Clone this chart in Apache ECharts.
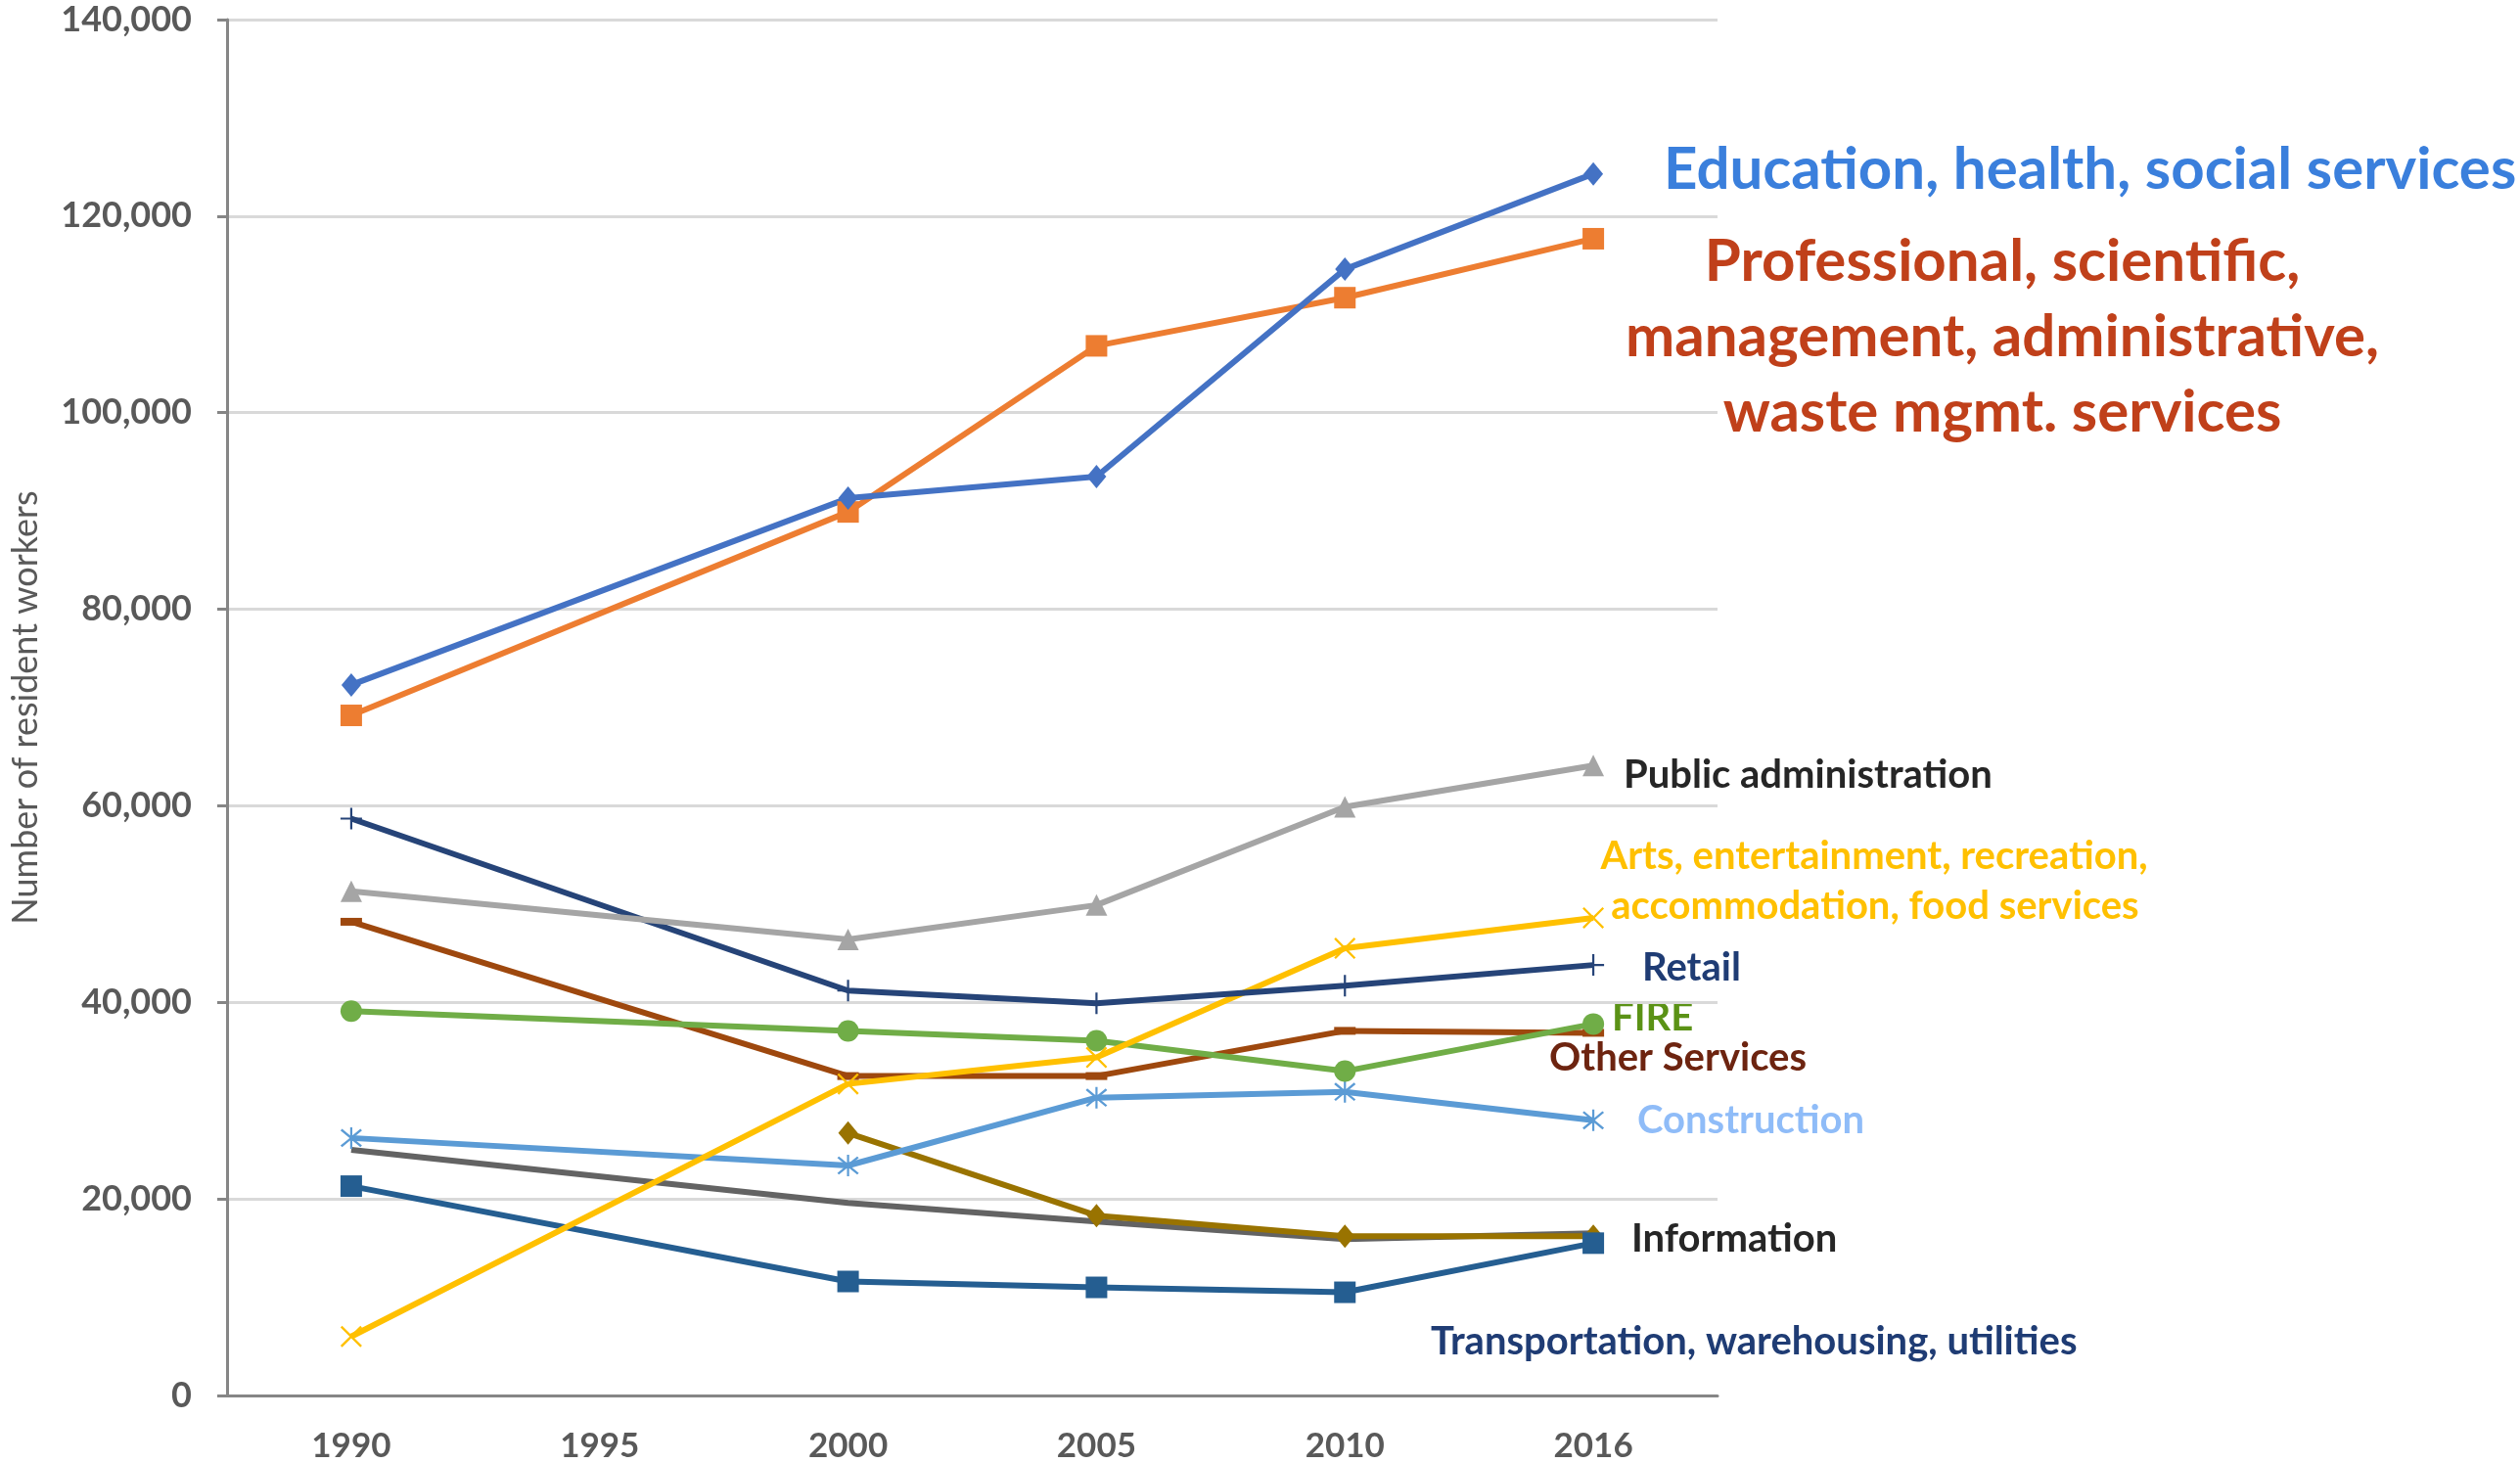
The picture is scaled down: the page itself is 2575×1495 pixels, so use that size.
<!DOCTYPE html>
<html>
<head>
<meta charset="utf-8">
<script src="https://cdn.jsdelivr.net/npm/echarts@6/dist/echarts.min.js"></script>
<style>
  html, body { margin: 0; padding: 0; background: #fff; }
  #chart { width: 2575px; height: 1495px; }
</style>
</head>
<body>
<div id="chart"></div>
<script>
// categories (1995 has no observations, lines run straight across it)
const years = ["1990", "1995", "2000", "2005", "2010", "2016"];

const education = [72300, null, 91300, 93500, 114600, 124300];
const professional = [69200, null, 89900, 106800, 111700, 117700];
const publicAdmin = [51300, null, 46400, 49900, 59900, 64100];
const retail = [58700, null, 41200, 39900, 41700, 43800];
const otherServices = [48200, null, 32500, 32500, 37100, 36900];
const arts = [6000, null, 31700, 34400, 45500, 48600];
const fire = [39100, null, 37100, 36100, 33000, 37800];
const construction = [26200, null, 23400, 30300, 30900, 28000];
const information = [25000, null, 19600, 17700, 15900, 16500];
const unlabeled = [null, null, 26700, 18300, 16200, 16200];
const transportation = [21300, null, 11600, 11000, 10500, 15500];

const yTicks = [0, 20000, 40000, 60000, 80000, 100000, 120000, 140000];

const plusSymbol = "path://M9,0 H11 V9 H20 V11 H11 V20 H9 V11 H0 V9 H9 Z";
const xSymbol = "path://M0,1.5 L1.5,0 L10,8.5 L18.5,0 L20,1.5 L11.5,10 L20,18.5 L18.5,20 L10,11.5 L1.5,20 L0,18.5 L8.5,10 Z";
const starSymbol = "path://M9,0 H11 V20 H9 Z M0,3 L1.5,1.5 L10,8.5 L18.5,1.5 L20,3 L11.5,10 L20,17 L18.5,18.5 L10,11.5 L1.5,18.5 L0,17 L8.5,10 Z";

function line(name, data, color, symbol, size) {
  return {
    name: name,
    type: "line",
    data: data,
    connectNulls: true,
    lineStyle: { color: color, width: 6 },
    itemStyle: { color: color },
    symbol: symbol,
    symbolSize: size,
    showSymbol: symbol !== "none",
  };
}

const font = "Lato, 'Open Sans', sans-serif";

function note(text, x, y, color, size, align) {
  return {
    type: "text",
    x: x,
    y: y,
    style: {
      text: text,
      fill: color,
      font: "bold " + size + "px " + font,
      textAlign: align || "left",
      textVerticalAlign: "middle",
    },
  };
}

const chart = echarts.init(document.getElementById("chart"));
chart.setOption({
  animation: false,
  backgroundColor: "#fff",
  grid: { left: 227, top: 20, right: 820, bottom: 69 },
  xAxis: {
    type: "category",
    data: years,
    boundaryGap: true,
    axisLine: { lineStyle: { color: "#868686", width: 3 } },
    axisTick: { show: false },
    axisLabel: { color: "#595959", fontSize: 35, fontWeight: "bold", fontFamily: font, margin: 34 },
  },
  yAxis: {
    type: "value",
    min: yTicks[0],
    max: yTicks[yTicks.length - 1],
    interval: yTicks[1] - yTicks[0],
    name: "Number of resident workers",
    nameLocation: "middle",
    nameGap: 188,
    nameTextStyle: { color: "#595959", fontSize: 36, fontFamily: font },
    axisLine: { show: true, lineStyle: { color: "#868686", width: 3 } },
    axisTick: { show: true, length: 10, lineStyle: { color: "#868686", width: 3 } },
    axisLabel: {
      color: "#595959", fontSize: 36, fontWeight: "bold", fontFamily: font, margin: 36,
      formatter: (v) => v.toLocaleString("en-US"),
    },
    splitLine: { lineStyle: { color: "#d9d9d9", width: 3 } },
  },
  series: [
    line("Information", information, "#636363", "none", 0),
    line("Unlabeled", unlabeled, "#997300", "diamond", [20, 24]),
    line("Transportation, warehousing, utilities", transportation, "#255e91", "rect", 22),
    line("Construction", construction, "#5b9bd5", starSymbol, 22),
    line("Other Services", otherServices, "#9e480e", "rect", [22, 8]),
    line("FIRE", fire, "#70ad47", "circle", 22),
    line("Arts, entertainment, recreation, accommodation, food services", arts, "#ffc000", xSymbol, 22),
    line("Retail", retail, "#264478", plusSymbol, 22),
    line("Public administration", publicAdmin, "#a5a5a5", "triangle", 22),
    line("Professional, scientific, management, administrative, waste mgmt. services", professional, "#ed7d31", "rect", 22),
    line("Education, health, social services", education, "#4472c4", "diamond", [20, 24]),
  ],
  graphic: [
    note("Education, health, social services", 1700, 174, "#3a7fdc", 60),
    note("Professional, scientific,", 2046, 268, "#c0401a", 60, "center"),
    note("management, administrative,", 2046, 345, "#c0401a", 60, "center"),
    note("waste mgmt. services", 2046, 422, "#c0401a", 60, "center"),
    note("Public administration", 1659, 792, "#262626", 40),
    note("Arts, entertainment, recreation,", 1915, 875, "#ffc000", 40, "center"),
    note("accommodation, food services", 1916, 926, "#ffc000", 40, "center"),
    note("Retail", 1678, 989, "#1f3c74", 40),
    note("FIRE", 1647, 1040, "#5b9216", 40),
    note("Other Services", 1583, 1081, "#6d2410", 40),
    note("Construction", 1673, 1145, "#8fbcf8", 40),
    note("Information", 1667, 1266, "#262626", 40),
    note("Transportation, warehousing, utilities", 1462, 1371, "#1f3c74", 40),
  ],
});
</script>
</body>
</html>
